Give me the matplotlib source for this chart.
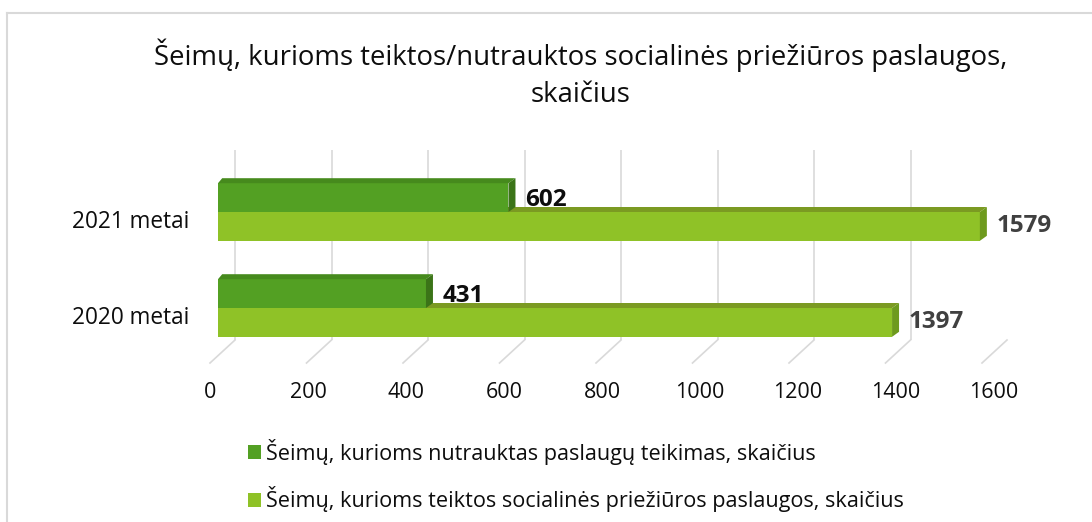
import matplotlib
matplotlib.use("Agg")
import matplotlib.pyplot as plt
from matplotlib.patches import Polygon, Patch
from matplotlib.lines import Line2D

# ---- data ----
categories = ["2020 metai", "2021 metai"]
nutraukta = [431, 602]          # dark green series
teiktos = [1397, 1579]          # light green series
series_names = [
    "Šeimų, kurioms nutrauktas paslaugų teikimas, skaičius",
    "Šeimų, kurioms teiktos socialinės priežiūros paslaugos, skaičius",
]
x_ticks = [0, 200, 400, 600, 800, 1000, 1200, 1400, 1600]
title_lines = ["Šeimų, kurioms teiktos/nutrauktos socialinės priežiūros paslaugos,",
               "skaičius"]

W, H = 1092, 522
FONT = "Open Sans"
fig = plt.figure(figsize=(W / 100, H / 100), dpi=100)


def fx(px):
    return px / W


def fy(py):
    return 1 - py / H


# main axes: x 0 -> px 218, 1600 -> px 990 ; y pixel 150..363
X0, X1 = 218, 990
YT, YB = 150, 363
ax = fig.add_axes([fx(X0), fy(YB), (X1 - X0) / W, (YB - YT) / H])
ax.set_xlim(0, 1600)
ylo = (308 - YB) / 96
yhi = (308 - YT) / 96
ax.set_ylim(ylo, yhi)
for s in ax.spines.values():
    s.set_visible(False)
ax.set_xticks([])

ux = 1600 / (X1 - X0)   # data units per pixel (x)
uy = 1 / 96             # data units per pixel (y)


def ypx(py):
    return (308 - py) / 96


grid_c = "#d9d9d9"
for v in x_ticks:
    bx = v + 17 * ux
    ax.plot([bx, bx], [ypx(340), ypx(150)], color=grid_c, lw=1.2, zorder=1,
            solid_capstyle="butt")
    ax.plot([bx, v - 8 * ux], [ypx(340), ypx(363)], color=grid_c, lw=1.2,
            zorder=1, clip_on=False)

# colours
dark_front, dark_top, dark_side = "#53a023", "#468a1d", "#3b7418"
light_front, light_top, light_side = "#8fc227", "#7b9a22", "#6e9a1e"

bh = 0.3
dx, dy = 7 * ux, 5 * uy


def bar3d(y0, val, front, top, side, z):
    ax.barh(y0, val, height=bh, left=0, align="edge", color=front,
            edgecolor="none", zorder=z)
    y1 = y0 + bh
    ax.add_patch(Polygon([(0, y1), (val, y1), (val + dx, y1 + dy),
                          (dx * 0.6, y1 + dy)], closed=True, facecolor=top,
                         edgecolor="none", zorder=z))
    ax.add_patch(Polygon([(val, y0), (val, y1), (val + dx, y1 + dy),
                          (val + dx, y0 + dy)], closed=True, facecolor=side,
                         edgecolor="none", zorder=z))


for i, cat in enumerate(categories):
    y = i
    bar3d(y - bh, teiktos[i], light_front, light_top, light_side, 2 + i * 3)
    bar3d(y, nutraukta[i], dark_front, dark_top, dark_side, 3 + i * 3)
    ax.text(nutraukta[i] + 17 * ux, y + bh / 2 - 0.025, str(nutraukta[i]),
            ha="left", va="center", fontsize=17.5, fontweight="bold",
            family=FONT, color="#0d0d0d", zorder=10)
    ax.text(teiktos[i] + 17 * ux, y - bh / 2, str(teiktos[i]),
            ha="left", va="center", fontsize=17.5, fontweight="bold",
            family=FONT, color="#404040", zorder=10)

# category labels
ax.set_yticks([i - 7 * uy for i in range(len(categories))])
ax.set_yticklabels(categories, fontsize=16.3, family=FONT, color="#0d0d0d")
ax.tick_params(axis="y", length=0, pad=29 * 0.72)

# x tick labels on a helper axes (0 at px 210, 1600 at px 994)
ax2 = fig.add_axes([fx(210), fy(382), (994 - 210) / W, 0.0001])
ax2.set_xlim(0, 1600)
ax2.set_xticks(x_ticks)
ax2.set_xticklabels([str(t) for t in x_ticks], fontsize=15.5, family=FONT,
                    color="#0d0d0d")
ax2.tick_params(axis="x", length=0, pad=0)
ax2.set_yticks([])
for s in ax2.spines.values():
    s.set_visible(False)
ax2.patch.set_alpha(0)

# title (two lines)
fig.text(fx(581), fy(65), title_lines[0], ha="center", va="baseline",
         fontsize=19.8, family=FONT, color="#0d0d0d")
fig.text(fx(581), fy(102), title_lines[1], ha="center", va="baseline",
         fontsize=19.8, family=FONT, color="#0d0d0d")

# legend
handles = [Patch(facecolor=dark_front, edgecolor="none"),
           Patch(facecolor=light_front, edgecolor="none")]
leg = fig.legend(handles, series_names, loc="upper left",
                 bbox_to_anchor=(fx(248), fy(439)), frameon=False,
                 prop={"family": FONT, "size": 15.6}, borderpad=0,
                 borderaxespad=0, handlelength=0.62, handleheight=0.62,
                 handletextpad=0.2, labelspacing=0.98)
for t in leg.get_texts():
    t.set_color("#0d0d0d")

# chart frame (top and left edges visible)
fig.add_artist(Line2D([fx(7), fx(W)], [fy(13), fy(13)], color="#d9d9d9",
                      lw=1.5))
fig.add_artist(Line2D([fx(7), fx(7)], [fy(13), fy(H)], color="#d9d9d9",
                      lw=1.5))

fig.savefig("out.png", dpi=100)
